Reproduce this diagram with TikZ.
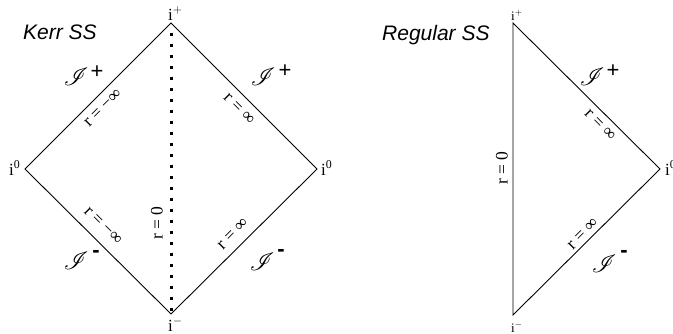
\documentclass[tikz,border=0pt]{standalone}
\usepackage{fontspec}
\usepackage{mathrsfs}
\setmainfont{Liberation Serif}
\setsansfont{Liberation Sans}
\tikzset{
  edge/.style={line width=0.9pt, line join=miter},
  dotline/.style={line width=3pt, dash pattern=on 3pt off 8pt, line cap=butt},
  rlab/.style={inner sep=0pt, font=\fontsize{17.5}{17.5}\selectfont},
  ilab/.style={inner sep=0pt, anchor=base west, font=\fontsize{17}{17}\selectfont},
  ilabsmall/.style={inner sep=0pt, anchor=base west, font=\fontsize{13}{13}\selectfont},
  scri/.style={inner sep=0pt, font=\fontsize{25}{25}\selectfont},
  pm/.style={inner sep=0pt, font=\sffamily\fontsize{22}{22}\selectfont},
  mn/.style={inner sep=0pt, font=\sffamily\bfseries\fontsize{22}{22}\selectfont},
  title/.style={inner sep=0pt, anchor=base west, font=\sffamily\itshape\fontsize{21}{21}\selectfont}
}
\begin{document}
\begin{tikzpicture}[x=1pt,y=-1pt]
\useasboundingbox (0,0) rectangle (673,333);
% Kerr SS
\coordinate (kt) at (171,23);
\coordinate (kl) at (25,169);
\coordinate (kr) at (317,169);
\coordinate (kb) at (171,314);
\draw[edge] (kt) -- (kr) -- (kb) -- (kl) -- cycle;
\draw[dotline, shorten <=9.5pt, shorten >=3.5pt] (kt) -- (kb);
\node[title] (kerr) at (23,39) {Kerr SS};
\node[ilab] (kip) at (168,20) {i$^{+}$};
\node[ilab] (kim) at (168,331) {i$^{-}$};
\node[ilab] (ki0l) at (9,175) {i\textsuperscript{0}};
\node[ilab] (ki0r) at (321,175) {i\textsuperscript{0}};
\node[rlab, rotate=45] (kr1) at (103,108) {r = −∞};
\node[rlab, rotate=-45] (kr2) at (103,226) {r = −∞};
\node[rlab, rotate=-45] (kr3) at (239,109) {r = ∞};
\node[rlab, rotate=45] (kr4) at (233,234) {r = ∞};
\node[rlab, rotate=90] (kr0) at (157,223) {r = 0};
\node[scri] (ks1) at (76,77) {$\mathscr{I}$};
\node[pm] (kp1) at (97,72) {+};
\node[scri] (ks2) at (263,77) {$\mathscr{I}$};
\node[pm] (kp2) at (285,71) {+};
\node[scri] (ks3) at (76,261) {$\mathscr{I}$};
\node[mn] (km3) at (96,254) {-};
\node[scri] (ks4) at (262,262) {$\mathscr{I}$};
\node[mn] (km4) at (281,253) {-};
% Regular SS
\coordinate (rt) at (513,23);
\coordinate (rr) at (660,169);
\coordinate (rb) at (513,315);
\draw[edge] (rt) -- (rr) -- (rb) -- cycle;
\node[title] (reg) at (382,40) {Regular SS};
\node[ilabsmall] (rip) at (511,20) {i$^{+}$};
\node[ilabsmall] (rim) at (511,332) {i$^{-}$};
\node[ilab] (ri0) at (665,175) {i\textsuperscript{0}};
\node[rlab, rotate=90] (rr0) at (502,168) {r = 0};
\node[rlab, rotate=-45] (rr1) at (600,125) {r = ∞};
\node[rlab, rotate=45] (rr2) at (583,234) {r = ∞};
\node[scri] (rs1) at (592,77) {$\mathscr{I}$};
\node[pm] (rp1) at (613,71) {+};
\node[scri] (rs2) at (604,264) {$\mathscr{I}$};
\node[mn] (rm2) at (624,254) {-};
\end{tikzpicture}
\end{document}
